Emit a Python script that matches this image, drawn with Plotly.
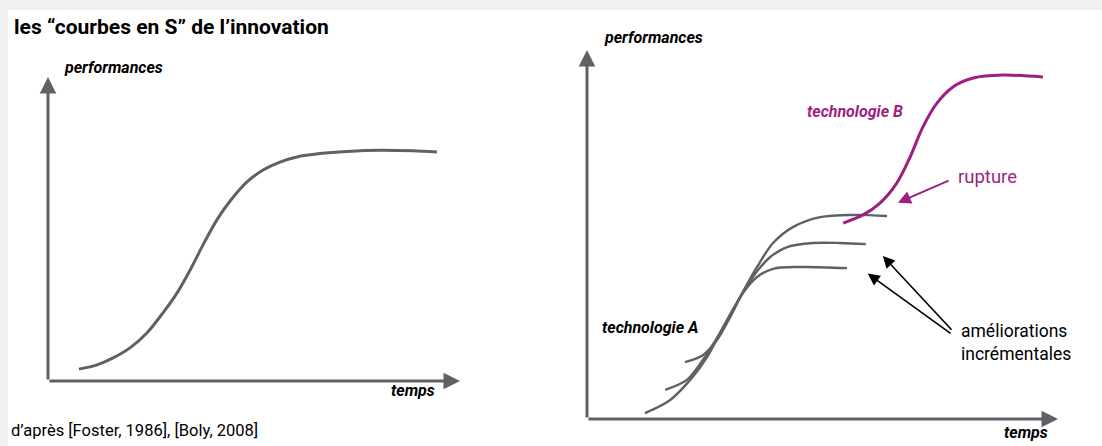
import plotly.graph_objects as go

GREY = "#5f6166"
MAGENTA = "#9e1f7f"
FONT = "Roboto, Open Sans, sans-serif"

# left panel: single S curve (temps 0-100, performances 0-100)
s_temps = [7.5, 11.9, 15.8, 19.9, 24.0, 27.9, 31.3, 34.5, 37.6, 41.0,
           44.2, 48.3, 52.2, 56.3, 60.4, 66.0, 72.6, 80.6, 88.6, 94.4]
s_perf = [3.9, 5.3, 7.6, 10.9, 15.8, 22.4, 28.9, 36.5, 44.7, 53.0,
          59.2, 65.5, 69.4, 72.0, 73.7, 74.8, 75.5, 75.9, 75.7, 75.3]

# right panel: technologie A, three incremental curves
a1_temps = [12.3, 17.6, 21.9, 25.5, 28.9, 32.5, 36.1, 39.5, 43.7, 49.5, 56.5, 63.7]
a1_perf = [1.6, 5.1, 10.6, 16.8, 24.9, 33.1, 41.2, 47.7, 52.0, 54.7, 55.3, 55.0]
a2_temps = [16.6, 21.2, 24.6, 28.2, 31.8, 35.2, 38.9, 42.5, 48.0, 53.7, 59.2]
a2_perf = [7.9, 10.6, 16.0, 23.3, 31.4, 38.5, 43.9, 46.6, 47.7, 47.7, 47.4]
a3_temps = [20.8, 24.6, 27.6, 30.4, 33.1, 36.1, 39.5, 45.2, 55.2]
a3_perf = [15.4, 17.3, 21.4, 27.6, 34.1, 38.5, 40.7, 41.2, 40.9]

# technologie B (rupture)
b_temps = [54.4, 58.6, 62.2, 65.8, 68.6, 71.3, 74.3, 77.7, 82.0, 88.3, 96.8]
b_perf = [53.1, 55.3, 58.5, 64.0, 71.0, 79.1, 85.6, 90.0, 92.4, 93.2, 92.7]

W, H = 1102, 446
Y_LO, Y_HI = -6, 106   # room for the axis labels


def domains(x0, x1, y0, y1):
    # x0/x1: pixel of temps 0/100, y0/y1: pixel of perf 0/100
    sy = (y0 - y1) / 100
    xd = [x0 / W, x1 / W]
    yd = [1 - (y0 - Y_LO * sy) / H, 1 - (y0 - Y_HI * sy) / H]
    return xd, yd


lx, ly = domains(48, 460, 381, 77)
rx, ry = domains(587, 1058, 419, 50)

fig = go.Figure()


def curve(x, y, color, xa="x", ya="y", width=3):
    fig.add_trace(go.Scatter(
        x=x, y=y, mode="lines", xaxis=xa, yaxis=ya,
        line=dict(color=color, width=width, shape="spline", smoothing=0.9),
        hoverinfo="skip", showlegend=False,
    ))


curve(s_temps, s_perf, GREY)
curve(a1_temps, a1_perf, GREY, "x2", "y2", 2.4)
curve(a2_temps, a2_perf, GREY, "x2", "y2", 2.4)
curve(a3_temps, a3_perf, GREY, "x2", "y2", 2.4)
curve(b_temps, b_perf, MAGENTA, "x2", "y2")

ann = []


def arrow(xa, ya, x0, y0, x1, y1, color=GREY, width=3, size=1.1, head=2):
    ann.append(dict(
        x=x1, y=y1, ax=x0, ay=y0, xref=xa, yref=ya, axref=xa, ayref=ya,
        text="", showarrow=True, arrowhead=head, arrowsize=size,
        arrowwidth=width, arrowcolor=color, standoff=0,
    ))


def label(xa, ya, x, y, text, size=16, color="black", anchor="left",
          bold=True, italic=True):
    ann.append(dict(
        x=x, y=y, xref=xa, yref=ya, text=text, showarrow=False,
        xanchor=anchor, yanchor="middle", align="left",
        font=dict(family=FONT, size=size, color=color,
                  weight="bold" if bold else "normal",
                  style="italic" if italic else "normal"),
    ))


# axes drawn as arrows
for xa, ya in (("x", "y"), ("x2", "y2")):
    arrow(xa, ya, 0, 0, 100, 0)
    arrow(xa, ya, 0, 0, 0, 100)

label("x", "y", 3.4, 103, "performances")
label("x", "y", 94.4, -3.2, "temps", anchor="right")
label("x2", "y2", 3.2, 103.3, "performances")
label("x2", "y2", 98.3, -3.6, "temps", anchor="right")

label("x2", "y2", 2.8, 24.9, "technologie A")
label("x2", "y2", 46.2, 83.2, "technologie B", color=MAGENTA)
label("x2", "y2", 78.3, 65.5, "rupture", size=18.5, color=MAGENTA,
      bold=False, italic=False)
label("x2", "y2", 79.0, 20.6, "améliorations<br>incrémentales", size=17.5,
      bold=False, italic=False)

arrow("x2", "y2", 77.1, 64.8, 66.0, 58.6, color=MAGENTA, width=2, size=1.3)
arrow("x2", "y2", 77.7, 23.8, 62.8, 44.2, color="black", width=1.6, size=1.5)
arrow("x2", "y2", 77.5, 22.9, 59.6, 39.4, color="black", width=1.6, size=1.5)

# title and source
ann.append(dict(x=12 / W, y=1 - 27 / H, xref="paper", yref="paper",
                text="<b>les “courbes en S” de l’innovation</b>", showarrow=False,
                xanchor="left", yanchor="middle",
                font=dict(family=FONT, size=21, color="black")))
ann.append(dict(x=9 / W, y=1 - 430 / H, xref="paper", yref="paper",
                text="d’après [Foster, 1986], [Boly, 2008]", showarrow=False,
                xanchor="left", yanchor="middle",
                font=dict(family=FONT, size=16.5, color="black")))

hidden = dict(visible=False, fixedrange=True)
fig.update_layout(
    width=W, height=H, margin=dict(l=0, r=0, t=0, b=0),
    paper_bgcolor="#f1f1f1", plot_bgcolor="rgba(0,0,0,0)",
    showlegend=False, annotations=ann,
    xaxis=dict(domain=lx, range=[0, 100], **hidden),
    yaxis=dict(domain=ly, range=[Y_LO, Y_HI], **hidden),
    xaxis2=dict(domain=rx, range=[0, 100], **hidden),
    yaxis2=dict(domain=ry, range=[Y_LO, Y_HI], **hidden),
    shapes=[dict(type="rect", xref="paper", yref="paper", x0=8 / W, x1=1,
                 y0=0, y1=1 - 10 / H, fillcolor="white", line_width=0,
                 layer="below")],
)

fig.write_html("out.html", config={"displayModeBar": False},
               post_script="document.body.style.margin='0';")
